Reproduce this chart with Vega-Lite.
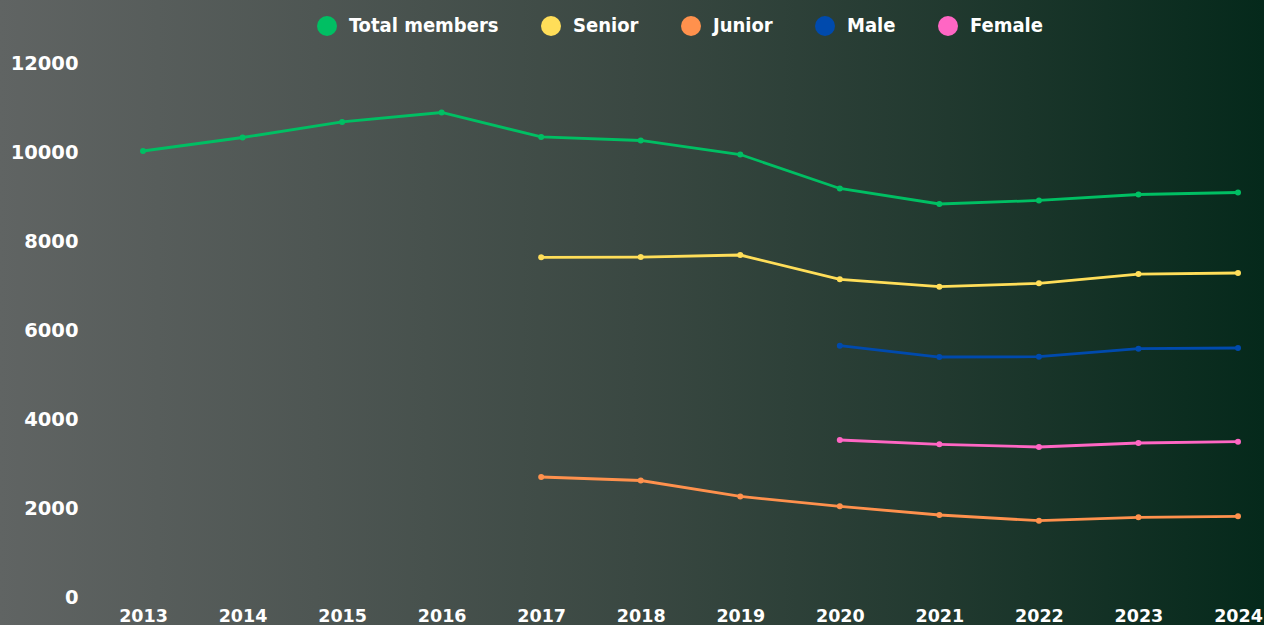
{
  "$schema": "https://vega.github.io/schema/vega-lite/v6.json",
  "width": 1264,
  "height": 625,
  "autosize": {"type": "none"},
  "padding": 0,
  "background": "#3a4842",
  "config": {
    "view": {
      "stroke": null,
      "fill": {
        "gradient": "linear",
        "x1": 0, "y1": 0, "x2": 1, "y2": 0,
        "stops": [
          {"offset": 0, "color": "#606463"},
          {"offset": 0.25, "color": "#4e5653"},
          {"offset": 0.5, "color": "#3a4842"},
          {"offset": 0.75, "color": "#21392f"},
          {"offset": 1, "color": "#05291b"}
        ]
      }
    },
    "font": "DejaVu Sans"
  },
  "data": {
    "values": [
      {"year": 2013, "series": "Total members", "value": 10045},
      {"year": 2014, "series": "Total members", "value": 10348},
      {"year": 2015, "series": "Total members", "value": 10697},
      {"year": 2016, "series": "Total members", "value": 10910},
      {"year": 2017, "series": "Total members", "value": 10360},
      {"year": 2018, "series": "Total members", "value": 10281},
      {"year": 2019, "series": "Total members", "value": 9966},
      {"year": 2020, "series": "Total members", "value": 9202},
      {"year": 2021, "series": "Total members", "value": 8854},
      {"year": 2022, "series": "Total members", "value": 8933},
      {"year": 2023, "series": "Total members", "value": 9067},
      {"year": 2024, "series": "Total members", "value": 9112},
      {"year": 2017, "series": "Senior", "value": 7656},
      {"year": 2018, "series": "Senior", "value": 7660},
      {"year": 2019, "series": "Senior", "value": 7707},
      {"year": 2020, "series": "Senior", "value": 7161},
      {"year": 2021, "series": "Senior", "value": 6995},
      {"year": 2022, "series": "Senior", "value": 7071},
      {"year": 2023, "series": "Senior", "value": 7280},
      {"year": 2024, "series": "Senior", "value": 7303},
      {"year": 2017, "series": "Junior", "value": 2719},
      {"year": 2018, "series": "Junior", "value": 2640},
      {"year": 2019, "series": "Junior", "value": 2281},
      {"year": 2020, "series": "Junior", "value": 2060},
      {"year": 2021, "series": "Junior", "value": 1865},
      {"year": 2022, "series": "Junior", "value": 1737},
      {"year": 2023, "series": "Junior", "value": 1813},
      {"year": 2024, "series": "Junior", "value": 1836},
      {"year": 2020, "series": "Male", "value": 5670},
      {"year": 2021, "series": "Male", "value": 5415},
      {"year": 2022, "series": "Male", "value": 5422},
      {"year": 2023, "series": "Male", "value": 5602},
      {"year": 2024, "series": "Male", "value": 5618},
      {"year": 2020, "series": "Female", "value": 3550},
      {"year": 2021, "series": "Female", "value": 3453},
      {"year": 2022, "series": "Female", "value": 3393},
      {"year": 2023, "series": "Female", "value": 3483},
      {"year": 2024, "series": "Female", "value": 3512}
    ]
  },
  "mark": {"type": "line", "strokeWidth": 2.8, "point": {"filled": true, "size": 36, "opacity": 1}},
  "encoding": {
    "x": {
      "field": "year",
      "type": "quantitative",
      "scale": {"domain": [2011.5634, 2024.2612], "nice": false, "zero": false},
      "axis": {
        "title": null,
        "values": [2013, 2014, 2015, 2016, 2017, 2018, 2019, 2020, 2021, 2022, 2023, 2024],
        "format": "d",
        "domain": false,
        "ticks": false,
        "tickSize": 0,
        "grid": false,
        "labelPadding": -4,
        "labelBaseline": "alphabetic",
        "labelFont": "DejaVu Sans",
        "labelFontSize": 17.5,
        "labelFontWeight": "bold",
        "labelColor": "#ffffff",
        "labelFlush": false,
        "labelOverlap": false,
        "labelBound": false
      }
    },
    "y": {
      "field": "value",
      "type": "quantitative",
      "scale": {"domain": [-607, 13438], "nice": false, "zero": false},
      "axis": {
        "title": null,
        "values": [0, 2000, 4000, 6000, 8000, 10000, 12000],
        "format": "d",
        "domain": false,
        "ticks": false,
        "tickSize": 0,
        "grid": false,
        "labelPadding": -78,
        "labelAlign": "right",
        "labelBaseline": "middle",
        "labelFont": "DejaVu Sans",
        "labelFontSize": 19.5,
        "labelFontWeight": "bold",
        "labelColor": "#ffffff",
        "labelFlush": false,
        "labelOverlap": false,
        "labelBound": false
      }
    },
    "color": {
      "field": "series",
      "type": "nominal",
      "scale": {
        "domain": ["Total members", "Senior", "Junior", "Male", "Female"],
        "range": ["#00bf63", "#ffde59", "#ff914d", "#004aad", "#ff66c4"]
      },
      "legend": {
        "title": null,
        "orient": "none",
        "direction": "horizontal",
        "legendX": 317,
        "legendY": 16,
        "padding": 0,
        "symbolType": "circle",
        "symbolSize": 400,
        "symbolStrokeWidth": 0,
        "symbolOpacity": 1,
        "labelFont": "DejaVu Sans Condensed, DejaVu Sans",
        "labelFontSize": 20,
        "labelFontWeight": "bold",
        "labelColor": "#ffffff",
        "labelOffset": 12,
        "columnPadding": 42,
        "labelLimit": 300
      }
    }
  }
}
